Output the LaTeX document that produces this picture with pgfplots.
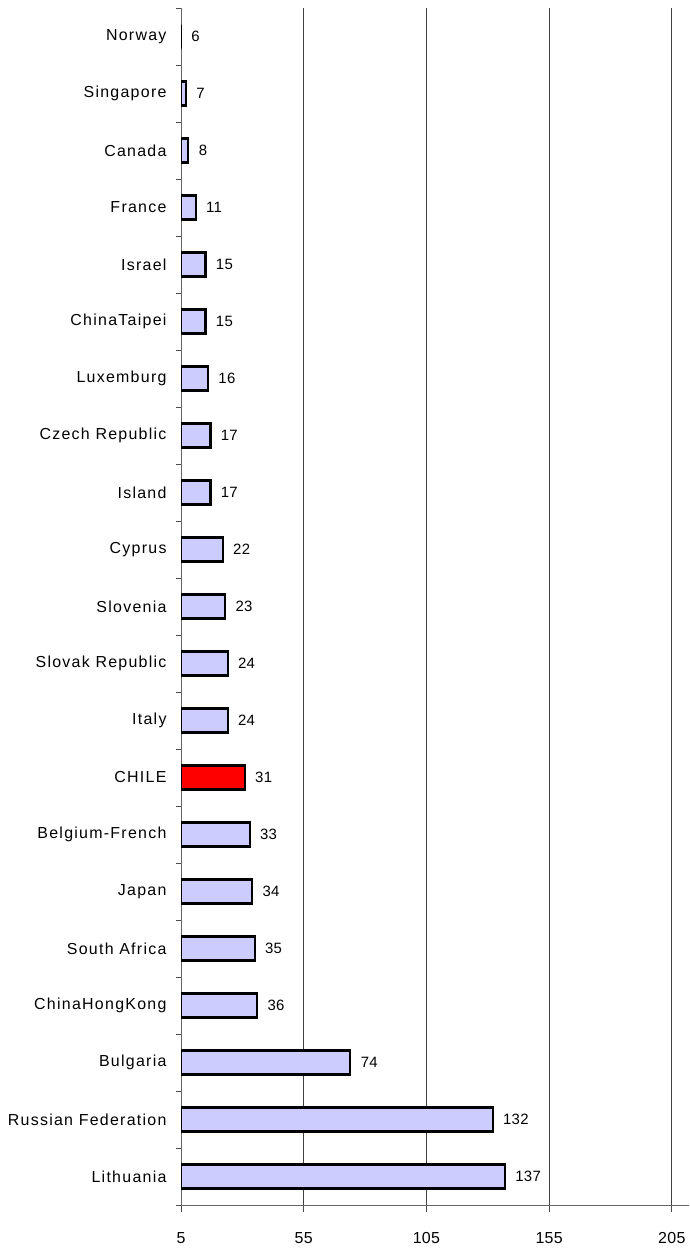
\documentclass[border=0pt]{standalone}
\usepackage{pgfplots}
\pgfplotsset{compat=1.18}
\usepackage{pgfplotstable}
\usepackage{fontspec}
\setmainfont{Liberation Sans}[LetterSpace=8.0]
\newfontfamily\numfont{Liberation Sans}[LetterSpace=2.0]
\definecolor{barfill}{RGB}{204,204,255}
\pgfplotstableread[col sep=comma]{
idx,name,bar,lab
0,Norway,5,6
1,Singapore,7,7
2,Canada,8,8
3,France,11,11
4,Israel,15,15
5,ChinaTaipei,15,15
6,Luxemburg,16,16
7,Czech Republic,17,17
8,Island,17,17
9,Cyprus,22,22
10,Slovenia,23,23
11,Slovak Republic,24,24
12,Italy,24,24
13,CHILE,31,31
14,Belgium-French,33,33
15,Japan,34,34
16,South Africa,35,35
17,ChinaHongKong,36,36
18,Bulgaria,74,74
19,Russian Federation,132,132
20,Lithuania,137,137
}\datatable
\begin{document}
\begin{tikzpicture}
\begin{axis}[
  name=ax,
  scale only axis,
  width=508bp, height=1197bp,
  xmin=5, xmax=212,
  ymin=-0.5, ymax=20.5,
  y dir=reverse,
  xtick={5,55,105,155,205},
  ytick={0,...,20},
  yticklabels from table={\datatable}{name},
  minor ytick={-0.5,0.5,...,20.5},
  axis x line*=bottom,
  axis y line*=left,
  axis line style={draw=black!60, line width=0.9bp},
  tick align=outside,
  major tick length=7bp,
  minor tick length=5bp,
  major y tick style={draw=none},
  minor y tick style={draw=black!70, line width=0.9bp},
  major x tick style={draw=black!70, line width=0.9bp},
  xmajorgrids,
  major grid style={draw=black!75, line width=0.8bp},
  yticklabel style={font=\fontsize{16}{19}\selectfont, xshift=-4bp},
  xticklabel style={font=\numfont\fontsize{16}{19}\selectfont, yshift=-17bp},
  /pgf/number format/assume math mode=true,
]
\addplot[xbar, bar shift=0pt, bar width=24bp, fill=barfill, draw=black, line width=2.2bp,
  point meta=explicit symbolic,
  nodes near coords,
  every node near coord/.append style={anchor=west, font=\numfont\fontsize{15}{18}\selectfont, xshift=6bp, text=black}]
  table[x=bar, y=idx, meta=lab] {\datatable};
\addplot[xbar, bar shift=0pt, bar width=24bp, fill=red, draw=black, line width=2.2bp]
  coordinates {(31,13)};
\end{axis}
\pgfresetboundingbox
\path ([shift={(-181bp,-48bp)}]ax.south west) rectangle ([shift={(0bp,8bp)}]ax.north east);
\end{tikzpicture}
\end{document}
